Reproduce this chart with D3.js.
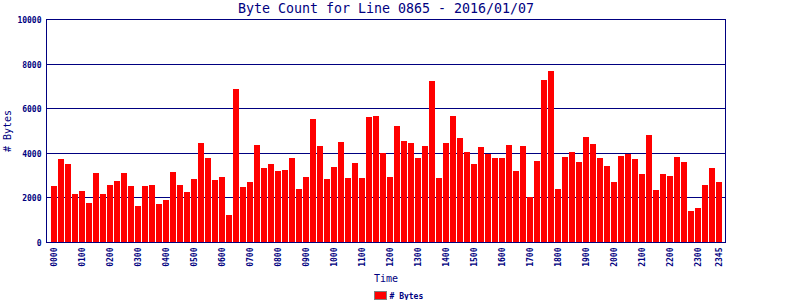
<!DOCTYPE html>
<html>
<head>
<meta charset="utf-8">
<script src="https://cdn.jsdelivr.net/npm/d3@7"></script>
<style>
    body { margin: 0; background: #fff; }
    svg { display: block; }
    text { font-family: "DejaVu Sans Mono", monospace; fill: #000080; }
</style>
</head>
<body>
<div id="chart"></div>
<script>
var title = "Byte Count for Line 0865 - 2016/01/07";

// 15 minute slots, 0000 .. 2345
var times = [];
for (var h = 0; h < 24; h++) {
    for (var m = 0; m < 60; m += 15) {
        times.push(("0" + h).slice(-2) + ("0" + m).slice(-2));
    }
}

var bytes = [
    2517, 3730, 3506, 2157, 2292, 1753, 3101, 2157, 2562, 2742, 3101, 2517,
    1618, 2517, 2562, 1708, 1888, 3146, 2562, 2247, 2831, 4449, 3775, 2787,
    2921, 1213, 6876, 2472, 2697, 4360, 3326, 3506, 3191, 3236, 3775, 2382,
    2921, 5528, 4315, 2831, 3371, 4494, 2876, 3551, 2876, 5618, 5663, 4000,
    2921, 5213, 4539, 4449, 3775, 4315, 7236, 2876, 4449, 5663, 4674, 4045,
    3506, 4270, 3955, 3775, 3775, 4360, 3191, 4315, 2022, 3640, 7281, 7685,
    2382, 3820, 4045, 3596, 4719, 4404, 3775, 3416, 2697, 3865, 3955, 3730,
    3056, 4809, 2337, 3056, 2966, 3820, 3596, 1393, 1528, 2562, 3326, 2697
];

var xTickLabels = ["0000", "0100", "0200", "0300", "0400", "0500", "0600", "0700",
    "0800", "0900", "1000", "1100", "1200", "1300", "1400", "1500", "1600", "1700",
    "1800", "1900", "2000", "2100", "2200", "2300", "2345"];
var yTickValues = [0, 2000, 4000, 6000, 8000, 10000];

var W = 800, H = 300;
var plotL = 46.5, plotR = 725.5, plotT = 19.5, plotB = 242.5;
var navy = "#000080";

var svg = d3.select("#chart").append("svg")
    .attr("width", W)
    .attr("height", H);

svg.append("rect").attr("width", W).attr("height", H).attr("fill", "#fff");

var scaleX = d3.scaleBand().domain(times).range([51, 722])
    .paddingInner(1 / 7).paddingOuter(0);
var scaleY = d3.scaleLinear().domain([0, 10000]).range([plotB, plotT]);

var snap = v => Math.round(v - 0.5) + 0.5;

// grid lines
svg.append("g").selectAll("line")
    .data(yTickValues)
    .enter().append("line")
    .attr("x1", plotL).attr("x2", plotR)
    .attr("y1", d => snap(scaleY(d))).attr("y2", d => snap(scaleY(d)))
    .attr("stroke", navy).attr("stroke-width", 1);

// bars
svg.append("g").selectAll("rect")
    .data(bytes)
    .enter().append("rect")
    .attr("x", (d, i) => scaleX(times[i]))
    .attr("y", d => Math.round(scaleY(d)))
    .attr("width", scaleX.bandwidth())
    .attr("height", d => 242 - Math.round(scaleY(d)))
    .attr("fill", "#ff0000");

// frame
svg.append("rect")
    .attr("x", plotL).attr("y", plotT)
    .attr("width", plotR - plotL).attr("height", plotB - plotT)
    .attr("fill", "none").attr("stroke", navy).attr("stroke-width", 1);

// y axis labels
var yAxis = d3.axisLeft(scaleY).tickValues(yTickValues)
    .tickFormat(d3.format("d")).tickSize(0).tickPadding(5);
var yAxisGroup = svg.append("g").attr("transform", `translate(${plotL},0)`).call(yAxis);
yAxisGroup.select(".domain").remove();
yAxisGroup.selectAll("text")
    .attr("y", d => snap(scaleY(d)) - scaleY(d))
    .style("font-size", "8px").style("font-weight", "bold")
    .attr("fill", navy);

// x axis labels, rotated
var xAxis = d3.axisBottom(scaleX)
    .tickValues(xTickLabels).tickSize(0).tickSizeOuter(0);
var xAxisGroup = svg.append("g").attr("transform", `translate(0,${plotB})`).call(xAxis);
xAxisGroup.select(".domain").remove();
xAxisGroup.selectAll("text")
    .attr("transform", "rotate(-90)")
    .attr("text-anchor", "end")
    .attr("x", -5).attr("y", 0).attr("dy", "0.32em")
    .style("font-size", "8px").style("font-weight", "bold")
    .attr("fill", navy);

// title + axis names
svg.append("text")
    .attr("x", (plotL + plotR) / 2).attr("y", 13)
    .attr("text-anchor", "middle")
    .style("font-size", "13.3px")
    .text(title);

svg.append("text")
    .attr("x", (plotL + plotR) / 2).attr("y", 282)
    .attr("text-anchor", "middle")
    .style("font-size", "10px")
    .text("Time");

svg.append("text")
    .attr("transform", `translate(11,${(plotT + plotB) / 2}) rotate(-90)`)
    .attr("text-anchor", "middle")
    .style("font-size", "10px")
    .text("# Bytes");

// legend
var legend = svg.append("g").attr("transform", "translate(374.5,291.5)");
legend.append("rect")
    .attr("width", 12).attr("height", 8)
    .attr("fill", "#ff0000").attr("stroke", "#808080").attr("stroke-width", 1);
legend.append("text")
    .attr("x", 15).attr("y", 7.5)
    .style("font-size", "8px").style("font-weight", "bold")
    .text("# Bytes");
</script>
</body>
</html>
